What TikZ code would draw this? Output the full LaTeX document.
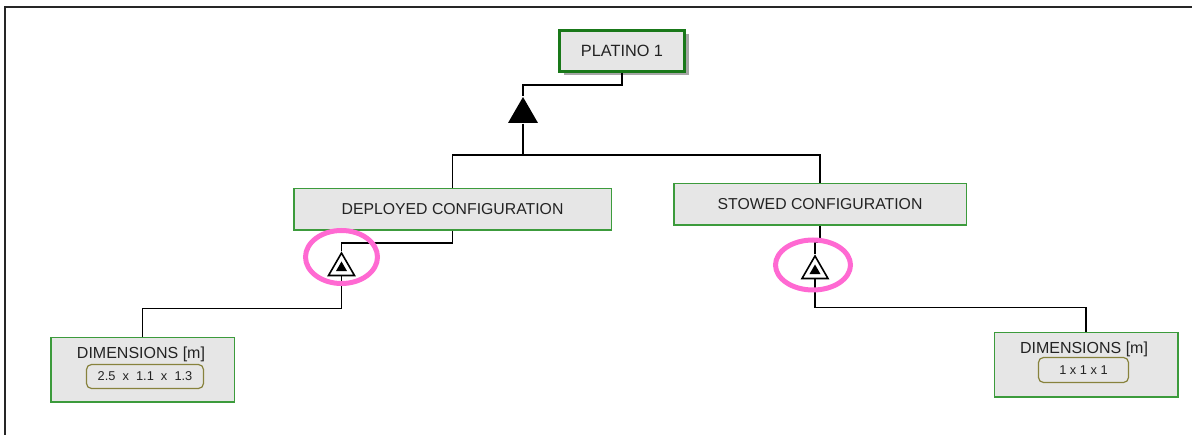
\documentclass[tikz,border=0pt]{standalone}
\usepackage{fontspec}
\setmainfont{Liberation Sans}
\usetikzlibrary{positioning, shapes.geometric, shadows}

\definecolor{topgreen}{RGB}{25,120,25}
\definecolor{boxgreen}{RGB}{60,155,60}
\definecolor{boxfill}{RGB}{230,230,230}
\definecolor{valolive}{RGB}{135,130,60}
\definecolor{ringpink}{RGB}{255,105,210}
\definecolor{txtgray}{RGB}{35,35,35}

\begin{document}
\begin{tikzpicture}[x=1pt, y=-1pt, line width=1.3pt,
    cfgbox/.style={draw=boxgreen, line width=1.5pt, fill=boxfill, inner sep=0pt,
        text=txtgray, font=\fontsize{15.8}{18}\selectfont},
    topbox/.style={cfgbox, draw=topgreen, line width=3pt, font=\fontsize{16.3}{18}\selectfont,
        drop shadow={shadow xshift=4pt, shadow yshift=-4pt, fill=black!35, opacity=1}},
    dimtitle/.style={inner sep=0pt, text=txtgray, font=\fontsize{16}{18}\selectfont},
    valbox/.style={draw=valolive, line width=1.2pt, fill=boxfill, rounded corners=5pt,
        inner sep=0pt, text=txtgray, font=\fontsize{12.8}{14}\selectfont},
    bigtri/.style={regular polygon, regular polygon sides=3, fill=black,
        inner sep=0pt, minimum size=34.6pt},
    gate/.style={regular polygon, regular polygon sides=3, draw=black, fill=white,
        line width=1.6pt, inner sep=0pt, minimum size=30pt},
    gatecore/.style={regular polygon, regular polygon sides=3, fill=black,
        inner sep=0pt, minimum size=13pt},
    ring/.style={draw=ringpink, line width=5pt}]
    \useasboundingbox (0,0) rectangle (1192,435);

    % 外框
    \draw[line width=2pt, black!85] (5,435) -- (5,7) -- (1192,7);

    % 顶层
    \node[topbox, minimum width=125pt, minimum height=41pt] (plat) at (622,51) {PLATINO 1};
    \coordinate (jTop) at (523,85);
    \coordinate (jMid) at (523,155);
    \node[bigtri] (tTop) at (523,114.3) {};

    % 两种构型
    \node[cfgbox, minimum width=317.5pt, minimum height=41.5pt] (dep) at (452.5,209.5) {DEPLOYED CONFIGURATION};
    \node[cfgbox, minimum width=292.5pt, minimum height=41.5pt] (sto) at (820,204.5) {STOWED CONFIGURATION};
    \draw (plat.south) |- (jTop) -- (tTop.north);
    \draw (tTop.south) -- (jMid);
    \draw (jMid) -| (dep.north);
    \draw (jMid) -| (sto.north);

    % 小三角
    \node[gate] (gL) at (341.5,268) {};
    \node[gatecore] (gLc) at (gL) {};
    \node[gate] (gR) at (815,271) {};
    \node[gatecore] (gRc) at (gR) {};
    \draw (dep.south) -- ++(0,12) -| (gL.north);
    \draw (sto.south) -- ++(0,16) -| (gR.north);

    % 尺寸
    \node[cfgbox, minimum width=183.5pt, minimum height=64.5pt] (dimL) at (142.5,370) {};
    \node[dimtitle] (dimLt) at (141,354) {DIMENSIONS [m]};
    \node[valbox, minimum width=117pt, minimum height=24pt] (valL) at (145,376.5) {2.5~~x~~1.1~~x~~1.3};
    \node[cfgbox, minimum width=183.5pt, minimum height=64.5pt] (dimR) at (1086,365) {};
    \node[dimtitle] (dimRt) at (1084,349) {DIMENSIONS [m]};
    \node[valbox, minimum width=90pt, minimum height=25pt] (valR) at (1083.5,370) {1 x 1 x 1};
    \draw (gL.south) -- ++(0,32) -| (dimL.north);
    \draw (gR.south) -- ++(0,28) -| (dimR.north);

    % 粉色圈
    \draw[ring] (341.5,257) ellipse [x radius=36pt, y radius=26.5pt];
    \draw[ring] (813,265) ellipse [x radius=37.5pt, y radius=25pt];
\end{tikzpicture}
\end{document}
